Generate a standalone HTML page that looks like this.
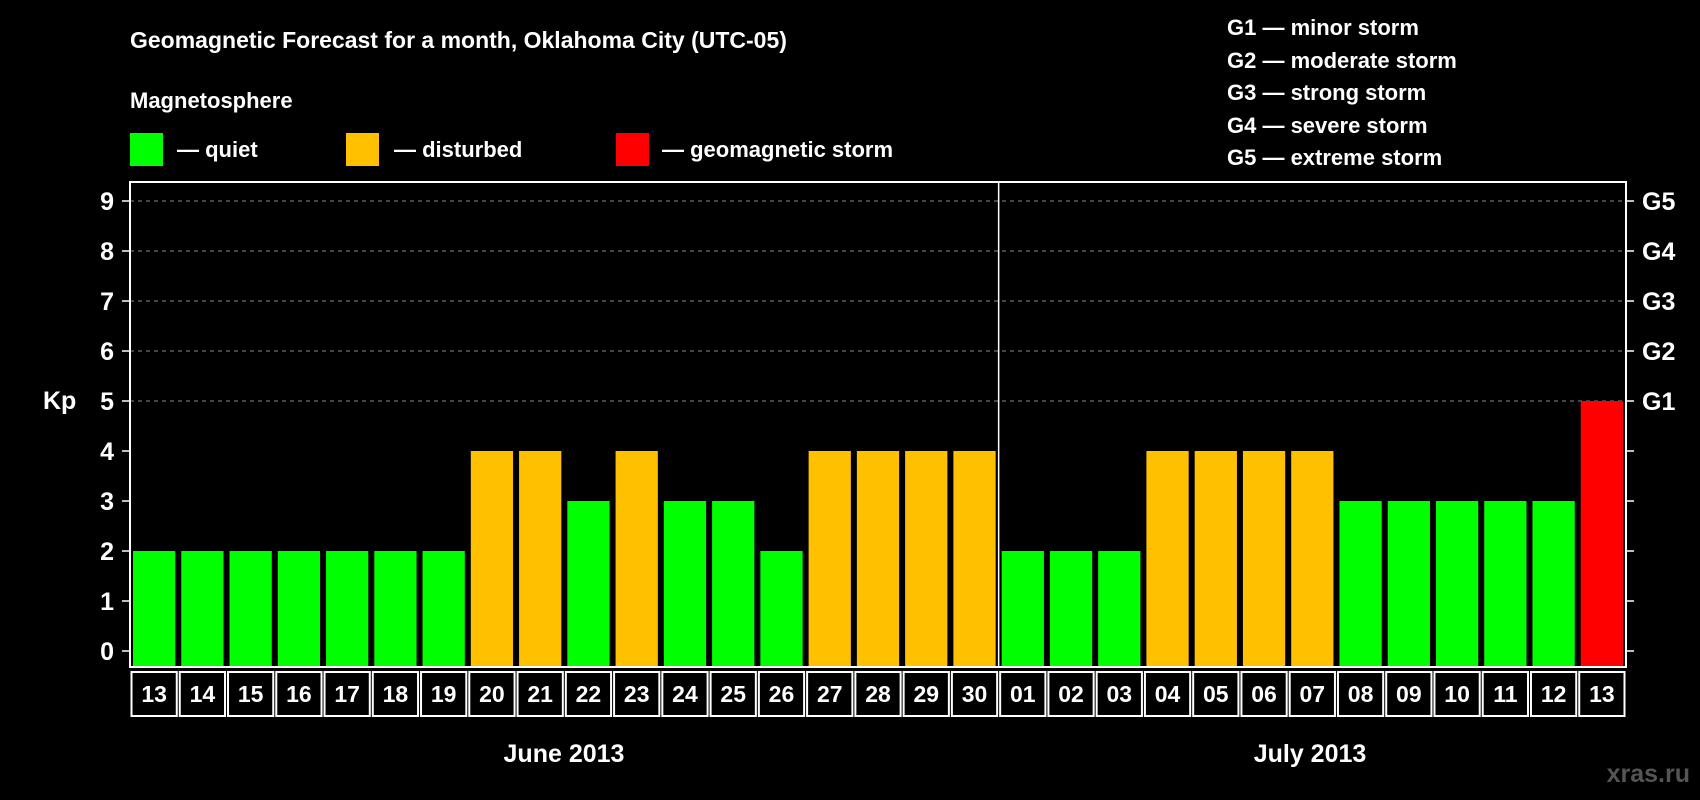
<!DOCTYPE html>
<html><head><meta charset="utf-8"><style>
html,body{margin:0;padding:0;background:#000;}
svg{display:block;font-family:"Liberation Sans",Arial,sans-serif;font-weight:bold;}
</style></head><body>
<svg id="chart" width="1700" height="800" viewBox="0 0 1700 800">
<rect width="1700" height="800" fill="#000"/>
<text x="130" y="48" fill="#fff" font-size="23">Geomagnetic Forecast for a month, Oklahoma City (UTC-05)</text>
<text x="130" y="108" fill="#fff" font-size="22">Magnetosphere</text>
<g><rect x="130" y="133" width="33" height="33" fill="#00ff00"/><text x="177" y="157" fill="#fff" font-size="22">— quiet</text></g>
<g><rect x="346" y="133" width="33" height="33" fill="#ffc000"/><text x="394" y="157" fill="#fff" font-size="22">— disturbed</text></g>
<g><rect x="616" y="133" width="33" height="33" fill="#ff0000"/><text x="662" y="157" fill="#fff" font-size="22">— geomagnetic storm</text></g>
<g fill="#fff" font-size="22">
<text x="1227" y="35">G1 — minor storm</text>
<text x="1227" y="68">G2 — moderate storm</text>
<text x="1227" y="100">G3 — strong storm</text>
<text x="1227" y="133">G4 — severe storm</text>
<text x="1227" y="165">G5 — extreme storm</text>
</g>
<text x="43" y="409" fill="#fff" font-size="25">Kp</text>
<g id="plot"></g>
<text x="564" y="762" fill="#fff" font-size="25" text-anchor="middle">June 2013</text>
<text x="1310" y="762" fill="#fff" font-size="25" text-anchor="middle">July 2013</text>
<text x="1690" y="782" fill="#555" font-size="25" text-anchor="end">xras.ru</text>
</svg>
<script>
const days = ["13","14","15","16","17","18","19","20","21","22","23","24","25","26","27","28","29","30","01","02","03","04","05","06","07","08","09","10","11","12","13"];
const kpValues = [2,2,2,2,2,2,2,4,4,3,4,3,3,2,4,4,4,4,2,2,2,4,4,4,4,3,3,3,3,3,5];
const yTicks = [0,1,2,3,4,5,6,7,8,9];
const gLabels = ["G1","G2","G3","G4","G5"];
const gLevels = [5,6,7,8,9];
const monthSplit = 18;

const NS = "http://www.w3.org/2000/svg";
const L = 130, R = 1626, T = 182, B = 667;
const slot = (R - L) / days.length;
const xPos = i => L + i * slot;
const yPos = v => 651 - v * 50;
const g = document.getElementById('plot');
function mk(tag, attrs, parent) {
  const e = document.createElementNS(NS, tag);
  for (const k in attrs) e.setAttribute(k, attrs[k]);
  (parent || g).appendChild(e);
  return e;
}
// grid
gLevels.forEach(v => {
  const l = mk('line', {x1: L, x2: R, y1: yPos(v), y2: yPos(v), stroke: '#888', 'stroke-width': 1, 'stroke-dasharray': '4,4'});
  
  
});
// bars
kpValues.forEach((v, i) => {
  const color = v >= 5 ? '#ff0000' : (v >= 4 ? '#ffc000' : '#00ff00');
  const r = mk('rect', {x: xPos(i) + 3, y: yPos(v), width: slot - 6, height: B - yPos(v), fill: color});
  
  
});
// frame
const fr = mk('rect', {x: L, y: T, width: R - L, height: B - T, fill: 'none', stroke: '#fff', 'stroke-width': 2});


const dv = mk('line', {x1: xPos(monthSplit), x2: xPos(monthSplit), y1: T, y2: B, stroke: '#fff', 'stroke-width': 1.5});


// y ticks
yTicks.forEach(v => {
  mk('line', {x1: L - 8, x2: L, y1: yPos(v), y2: yPos(v), stroke: '#fff', 'stroke-width': 1.5});
  mk('line', {x1: R, x2: R + 8, y1: yPos(v), y2: yPos(v), stroke: '#fff', 'stroke-width': 1.5});
  const t = mk('text', {x: 114, y: yPos(v) + 9, fill: '#fff', 'font-size': 25, 'text-anchor': 'end'});
  t.textContent = v;
  
  
});
gLabels.forEach((s, i) => {
  const t = mk('text', {x: 1642, y: yPos(gLevels[i]) + 9, fill: '#fff', 'font-size': 25});
  t.textContent = s;
  
  
});
// date cells
days.forEach((d, i) => {
  const c = mk('rect', {x: xPos(i) + 1.5, y: 672, width: slot - 3, height: 44, fill: 'none', stroke: '#fff', 'stroke-width': 2});
  
  
  const t = mk('text', {x: xPos(i) + slot / 2, y: 702, fill: '#fff', 'font-size': 23, 'text-anchor': 'middle'});
  t.textContent = d;
  
  
});
</script>
</body></html>
